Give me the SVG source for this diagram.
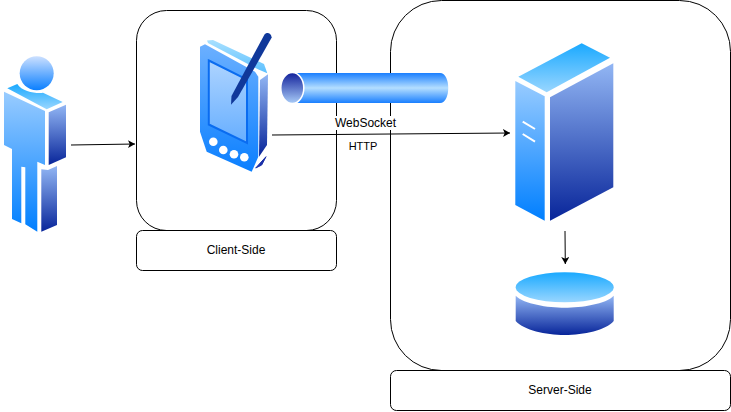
<svg xmlns="http://www.w3.org/2000/svg" width="731" height="412" viewBox="0 0 731 412">
<style>
.box{fill:#fff;stroke:#000;stroke-width:1}
.t{font-family:"Liberation Sans",Arial,sans-serif;font-size:12px;fill:#000;text-anchor:middle}
.c{fill:none;stroke:#000;stroke-width:1;marker-end:url(#arrow)}
.w{stroke:#fff;stroke-width:2;stroke-linecap:butt;fill:none}
</style>
<defs>
<marker id="arrow" markerUnits="userSpaceOnUse" markerWidth="9" markerHeight="9" refX="7" refY="4" orient="auto"><path d="M0 0L7 4L0 8L1.700 4Z" fill="#000"/></marker>
<linearGradient id="front" x1="0" y1="0" x2="0" y2="1"><stop offset="0" stop-color="#99ccff"/><stop offset="1" stop-color="#007fff"/></linearGradient>
<linearGradient id="tabletBody" x1="0" y1="0" x2="0" y2="1"><stop offset="0" stop-color="#6cb0ff"/><stop offset="1" stop-color="#0a7fff"/></linearGradient>
<linearGradient id="screen" x1="0" y1="0" x2="0" y2="1"><stop offset="0" stop-color="#aed4ff"/><stop offset="1" stop-color="#66aeff"/></linearGradient>
<linearGradient id="side" x1="0" y1="0" x2="0" y2="1"><stop offset="0" stop-color="#92b6f4"/><stop offset="1" stop-color="#08259a"/></linearGradient>
<linearGradient id="top" x1="0" y1="0" x2="0" y2="1"><stop offset="0" stop-color="#1aa9ff"/><stop offset="1" stop-color="#99d6ff"/></linearGradient>
<linearGradient id="tabletTop" x1="0" y1="0" x2="0" y2="1"><stop offset="0" stop-color="#a8e0ff"/><stop offset="1" stop-color="#5cc0ff"/></linearGradient>
<linearGradient id="head" x1="0" y1="0" x2="0" y2="1"><stop offset="0" stop-color="#cce0ff"/><stop offset="1" stop-color="#0a7fff"/></linearGradient>
<linearGradient id="pipe" x1="0" y1="0" x2="0" y2="1"><stop offset="0" stop-color="#1a7fff"/><stop offset="0.5" stop-color="#b4deff"/><stop offset="1" stop-color="#1a7fff"/></linearGradient>
<linearGradient id="pipeEnd" x1="0" y1="0" x2="0" y2="1"><stop offset="0" stop-color="#11209a"/><stop offset="1" stop-color="#a9ccf8"/></linearGradient>
</defs>
<g id="client-box"><rect class="box" x="136.500" y="10.500" width="200" height="220" rx="30"/></g>
<g id="client-label"><rect class="box" x="136.500" y="230.500" width="200" height="40" rx="6"/><text class="t" x="236" y="254">Client-Side</text></g>
<g id="server-box"><rect class="box" x="390.500" y="0.500" width="340" height="370" rx="51"/></g>
<g id="server-label"><rect class="box" x="390.500" y="370.500" width="340" height="40" rx="6"/><text class="t" x="560" y="394">Server-Side</text></g>
<g id="user">
<circle cx="36.700" cy="73.300" r="17" fill="url(#head)"/>
<path d="M7.300 88.300L17.300 84C22 92 38 94 43 92.700L62.700 102L46.700 109.300Z" fill="url(#top)"/>
<path d="M4 91.700L45 111V165L37.300 161.700V231.700L25.300 224.300V167.300L21.300 166.700V223.300L12 219V149L4 145Z" fill="url(#front)"/>
<path d="M48.700 112.300L66 104.700V157.300L48.700 165Z" fill="url(#side)"/>
<path d="M41.300 169.300L48 170L57 166V225L41.300 231.700Z" fill="url(#side)"/>
</g>
<g id="tablet">
<path d="M207 40.500L213 40L264 64L267.300 73.300L258.500 69.500L208 43Z" fill="url(#tabletTop)"/>
<path d="M200 46.700L205 44.300L255 71.700L258.300 76.700V156.700L251.700 171.700L206.700 151.700L200 131.700Z" fill="url(#tabletBody)"/>
<path d="M208.800 60.500L247 79.500V143L208.800 124.500Z" fill="url(#screen)" stroke="#0a6cf0" stroke-width="2"/>
<circle cx="213.300" cy="141.700" r="4.300" fill="#fff"/><circle cx="223.300" cy="150" r="4.300" fill="#fff"/><circle cx="234" cy="154.300" r="4.300" fill="#fff"/><circle cx="244.300" cy="157.300" r="4.300" fill="#fff"/>
<path d="M260 80L268 74.300L267 145L259 156.700Z" fill="url(#side)"/>
<path d="M255.700 168L266 156.700L261.700 165Z" fill="#1a2fa8" stroke="#1a2fa8" stroke-width="1"/>
<path d="M264.500 34.500C266.500 32 271 32.500 271.700 37.500L238 97L231 104.700L231.500 96Z" fill="#10389a"/>
</g>
<g id="websocket-pipe">
<path d="M296 73H440C451 73 451 103 440 103H296Z" fill="url(#pipe)"/>
<ellipse cx="292.300" cy="88" rx="11.500" ry="15.500" fill="url(#pipeEnd)" stroke="#fff" stroke-width="1.500"/>
</g>
<g id="server">
<path d="M581.700 43.300L610 57.700L546.700 92.300L518.300 76.700Z" fill="url(#top)"/>
<path d="M515.300 81L544.700 96.300V220.700L515.300 205Z" fill="url(#front)"/>
<path d="M550 97.300L613.300 63.300V187.300L550 220.700Z" fill="url(#side)"/>
<path class="w" d="M522.700 121.700L535 129M522.700 134L535 141.700"/>
</g>
<g id="database">
<ellipse cx="564.700" cy="287.300" rx="49" ry="15" fill="url(#top)"/>
<path d="M515.700 295.700C524 304 548 307.700 564.700 307.700S606 304 613.700 295.700V321C606 330 584 335 564.700 335S524 330 515.700 321Z" fill="url(#side)"/>
</g>
<g id="connectors">
<path class="c" d="M71 145L135 144"/>
<path class="c" d="M272 135L510 133"/>
<path class="c" d="M565 231L565.300 264"/>
</g>
<g id="labels">
<rect x="334" y="116" width="62" height="14" fill="#fff"/>
<text class="t" x="365.500" y="127">WebSocket</text>
<text class="t" x="363" y="150" style="font-size:11px">HTTP</text>
</g>
</svg>
